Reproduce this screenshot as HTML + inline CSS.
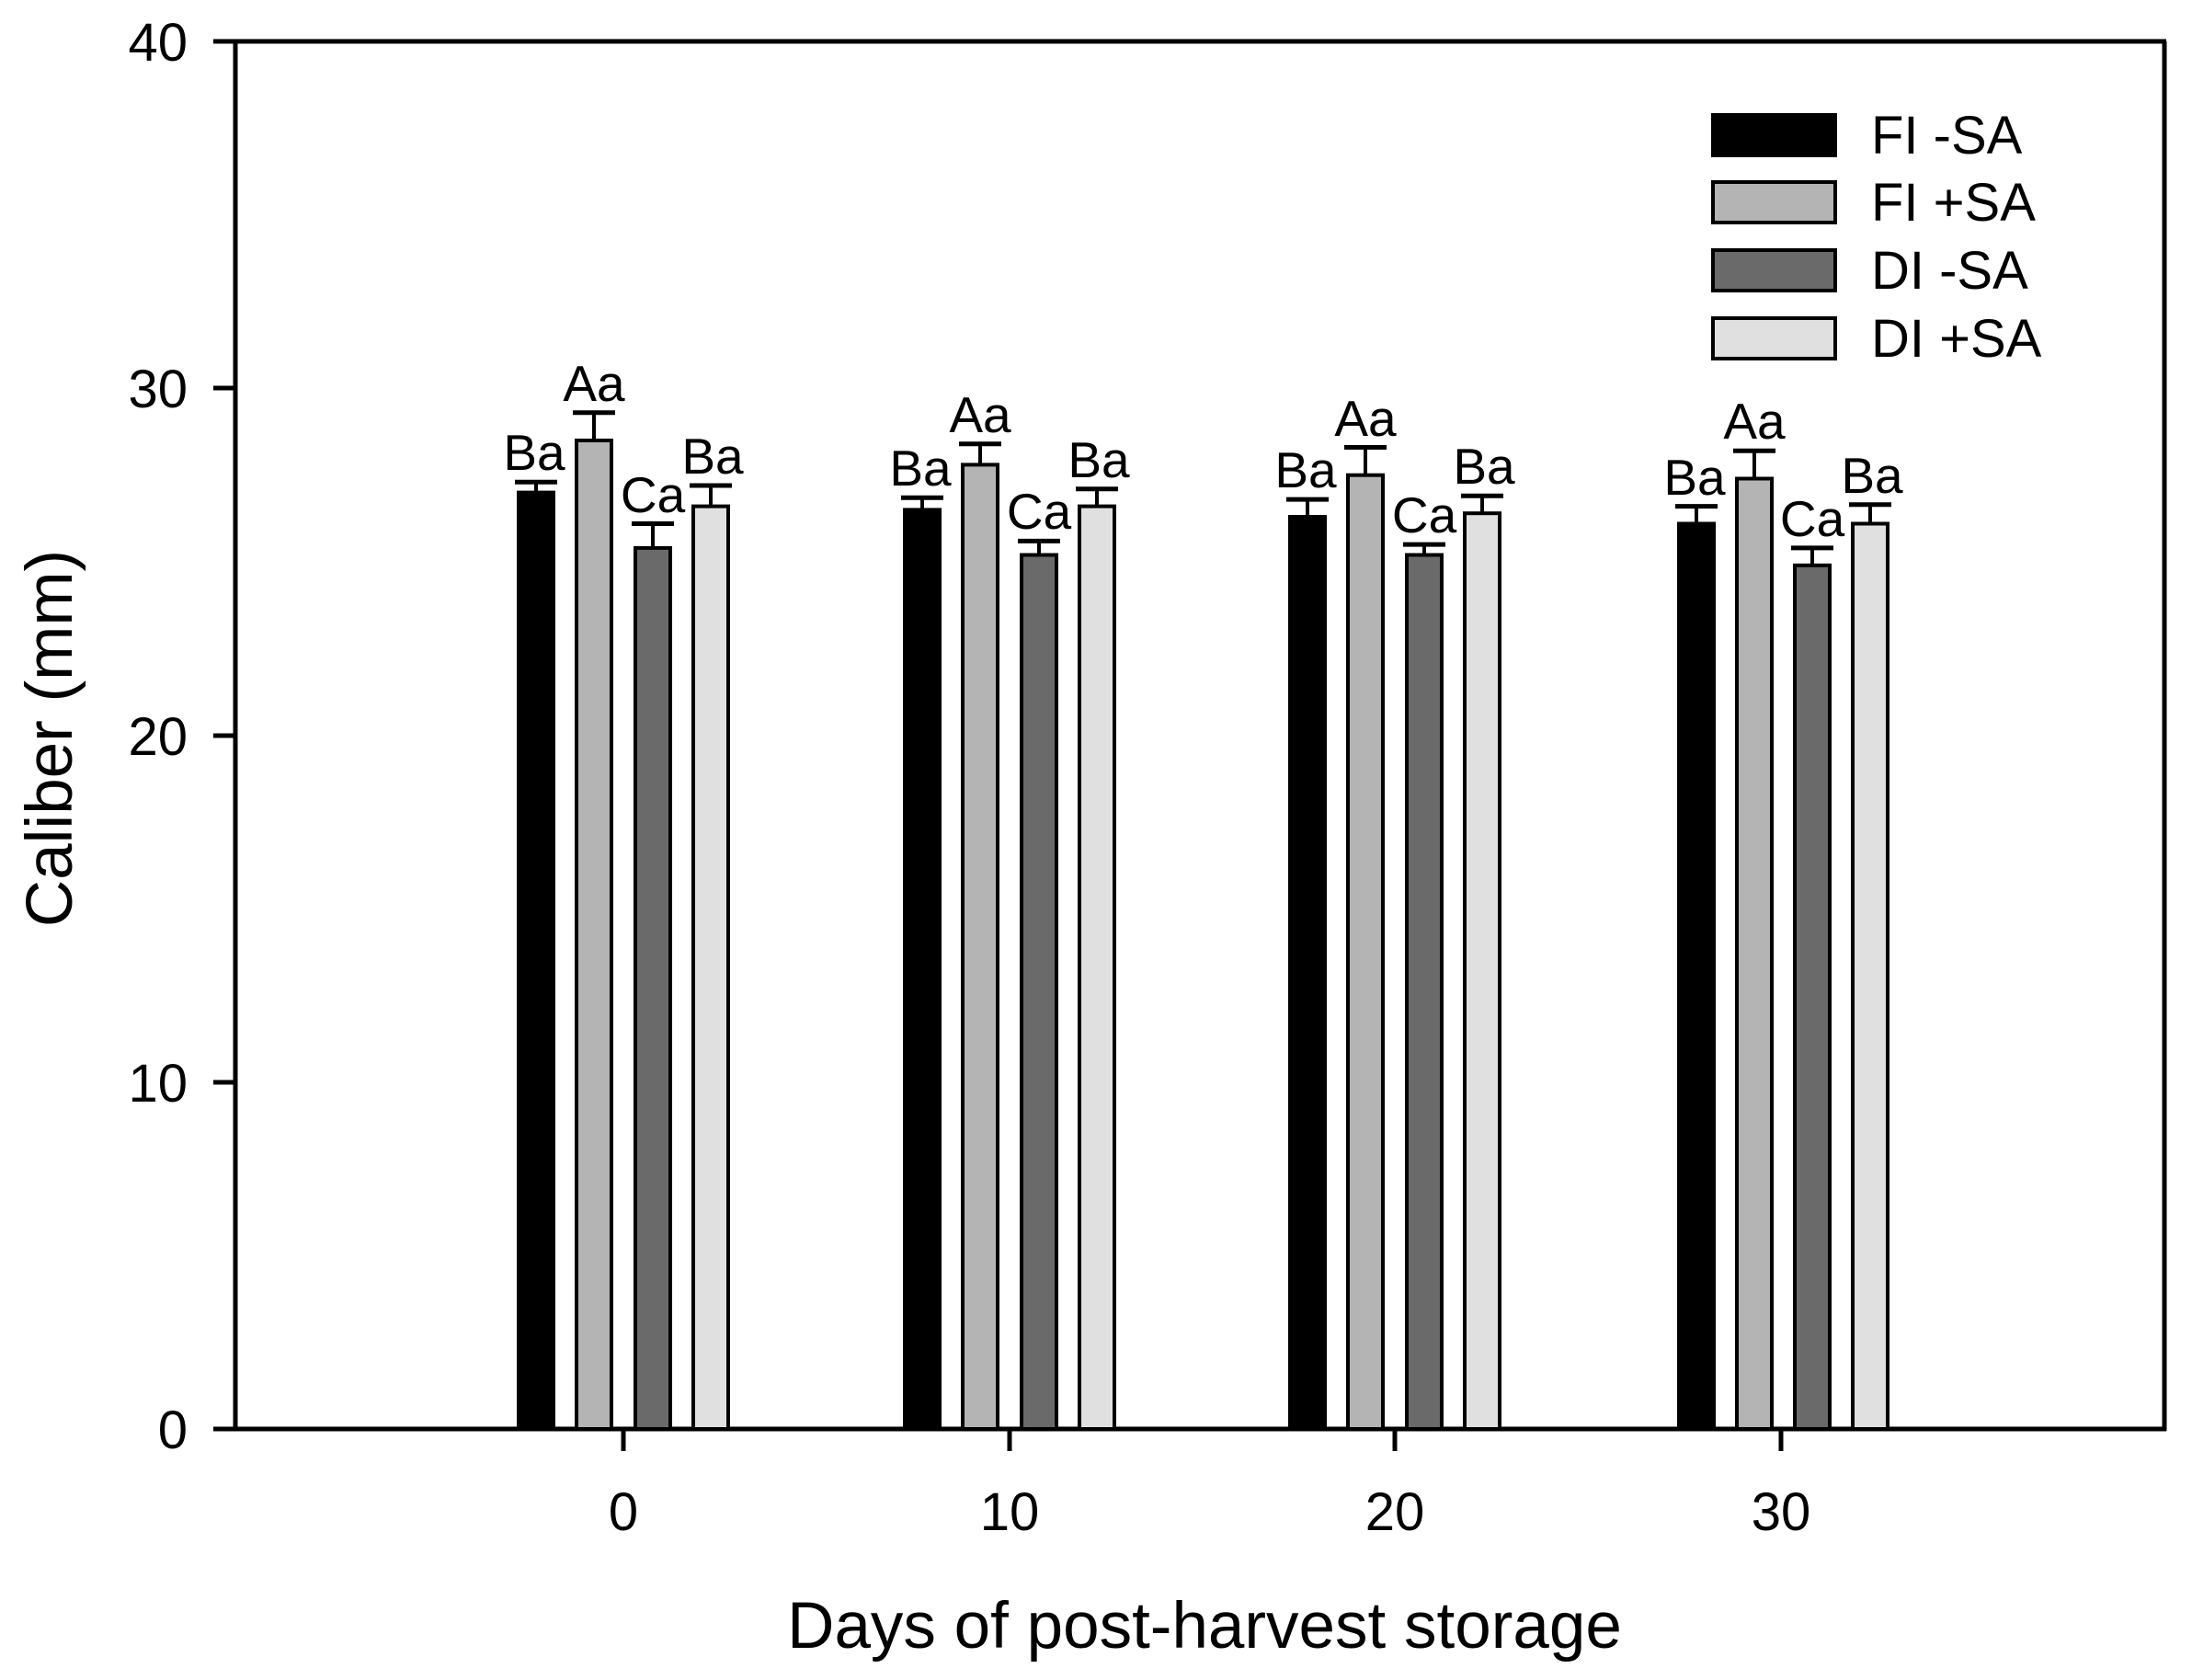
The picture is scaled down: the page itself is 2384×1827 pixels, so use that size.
<!DOCTYPE html>
<html><head><meta charset="utf-8"><style>html,body{margin:0;padding:0;background:#fff}svg{display:block}</style></head>
<body>
<svg width="2384" height="1827" viewBox="0 0 2384 1827" xmlns="http://www.w3.org/2000/svg" font-family="Liberation Sans, sans-serif">
<rect width="2384" height="1827" fill="#fff"/>
<g stroke="#000" stroke-width="5" fill="none">
<line x1="256" y1="45" x2="256" y2="1556"/>
<line x1="254" y1="1554" x2="2356" y2="1554"/>
<line x1="254" y1="45" x2="2356" y2="45"/>
<line x1="2354" y1="45" x2="2354" y2="1556"/>
<line x1="232" y1="45" x2="256" y2="45"/>
<line x1="232" y1="422" x2="256" y2="422"/>
<line x1="232" y1="800" x2="256" y2="800"/>
<line x1="232" y1="1177" x2="256" y2="1177"/>
<line x1="232" y1="1554" x2="256" y2="1554"/>
<line x1="678" y1="1554" x2="678" y2="1578"/>
<line x1="1098" y1="1554" x2="1098" y2="1578"/>
<line x1="1517" y1="1554" x2="1517" y2="1578"/>
<line x1="1937" y1="1554" x2="1937" y2="1578"/>
</g>
<g font-size="58" text-anchor="end">
<text x="204" y="66">40</text>
<text x="204" y="443">30</text>
<text x="204" y="821">20</text>
<text x="204" y="1198">10</text>
<text x="204" y="1575">0</text>
</g>
<g font-size="58" text-anchor="middle">
<text x="678" y="1664">0</text>
<text x="1098" y="1664">10</text>
<text x="1517" y="1664">20</text>
<text x="1937" y="1664">30</text>
</g>
<text x="1310" y="1792" font-size="71" text-anchor="middle">Days of post-harvest storage</text>
<text transform="translate(78,803) rotate(-90)" font-size="71" text-anchor="middle">Caliber (mm)</text>
<g stroke="#000" stroke-width="4">
<rect x="1863" y="125" width="133" height="44" fill="#000"/>
<rect x="1863" y="198" width="133" height="44" fill="#b4b4b4"/>
<rect x="1863" y="272" width="133" height="44" fill="#6a6a6a"/>
<rect x="1863" y="346" width="133" height="44" fill="#e0e0e0"/>
</g>
<g font-size="58">
<text x="2035" y="167">FI -SA</text>
<text x="2035" y="240">FI +SA</text>
<text x="2035" y="314">DI -SA</text>
<text x="2035" y="388">DI +SA</text>
</g>
<g stroke="#000" stroke-width="4">
<!-- group 0 -->
<line x1="583" y1="535.6" x2="583" y2="524.2"/><line x1="560" y1="524.2" x2="606" y2="524.2" stroke-width="5"/>
<rect x="564" y="535.6" width="38" height="1018.4" fill="#000"/>
<line x1="646" y1="479" x2="646" y2="448.8"/><line x1="623" y1="448.8" x2="669" y2="448.8" stroke-width="5"/>
<rect x="627" y="479" width="38" height="1075" fill="#b4b4b4"/>
<line x1="710" y1="595.9" x2="710" y2="569.5"/><line x1="687" y1="569.5" x2="733" y2="569.5" stroke-width="5"/>
<rect x="691" y="595.9" width="38" height="958.1" fill="#6a6a6a"/>
<line x1="773" y1="550.6" x2="773" y2="528"/><line x1="750" y1="528" x2="796" y2="528" stroke-width="5"/>
<rect x="754" y="550.6" width="38" height="1003.4" fill="#e0e0e0"/>
<!-- group 10 -->
<line x1="1003" y1="554.4" x2="1003" y2="541.2"/><line x1="980" y1="541.2" x2="1026" y2="541.2" stroke-width="5"/>
<rect x="984" y="554.4" width="38" height="999.6" fill="#000"/>
<line x1="1066" y1="505.4" x2="1066" y2="482.8"/><line x1="1043" y1="482.8" x2="1089" y2="482.8" stroke-width="5"/>
<rect x="1047" y="505.4" width="38" height="1048.6" fill="#b4b4b4"/>
<line x1="1130" y1="603.5" x2="1130" y2="588.4"/><line x1="1107" y1="588.4" x2="1153" y2="588.4" stroke-width="5"/>
<rect x="1111" y="603.5" width="38" height="950.5" fill="#6a6a6a"/>
<line x1="1193" y1="550.6" x2="1193" y2="531.8"/><line x1="1170" y1="531.8" x2="1216" y2="531.8" stroke-width="5"/>
<rect x="1174" y="550.6" width="38" height="1003.4" fill="#e0e0e0"/>
<!-- group 20 -->
<line x1="1422" y1="562" x2="1422" y2="543.1"/><line x1="1399" y1="543.1" x2="1445" y2="543.1" stroke-width="5"/>
<rect x="1403" y="562" width="38" height="992" fill="#000"/>
<line x1="1485" y1="516.7" x2="1485" y2="486.5"/><line x1="1462" y1="486.5" x2="1508" y2="486.5" stroke-width="5"/>
<rect x="1466" y="516.7" width="38" height="1037.3" fill="#b4b4b4"/>
<line x1="1549" y1="603.5" x2="1549" y2="592.1"/><line x1="1526" y1="592.1" x2="1572" y2="592.1" stroke-width="5"/>
<rect x="1530" y="603.5" width="38" height="950.5" fill="#6a6a6a"/>
<line x1="1612" y1="558.2" x2="1612" y2="539.3"/><line x1="1589" y1="539.3" x2="1635" y2="539.3" stroke-width="5"/>
<rect x="1593" y="558.2" width="38" height="995.8" fill="#e0e0e0"/>
<!-- group 30 -->
<line x1="1845" y1="569.5" x2="1845" y2="550.6"/><line x1="1822" y1="550.6" x2="1868" y2="550.6" stroke-width="5"/>
<rect x="1826" y="569.5" width="38" height="984.5" fill="#000"/>
<line x1="1908" y1="520.5" x2="1908" y2="490.3"/><line x1="1885" y1="490.3" x2="1931" y2="490.3" stroke-width="5"/>
<rect x="1889" y="520.5" width="38" height="1033.5" fill="#b4b4b4"/>
<line x1="1971" y1="614.8" x2="1971" y2="595.9"/><line x1="1948" y1="595.9" x2="1994" y2="595.9" stroke-width="5"/>
<rect x="1952" y="614.8" width="38" height="939.2" fill="#6a6a6a"/>
<line x1="2034" y1="569.5" x2="2034" y2="548.8"/><line x1="2011" y1="548.8" x2="2057" y2="548.8" stroke-width="5"/>
<rect x="2015" y="569.5" width="38" height="984.5" fill="#e0e0e0"/>
</g>
<g font-size="55" text-anchor="middle">
<text x="581" y="511">Ba</text><text x="646" y="436">Aa</text><text x="710" y="557">Ca</text><text x="775" y="515">Ba</text>
<text x="1001" y="528">Ba</text><text x="1066" y="470">Aa</text><text x="1130" y="575">Ca</text><text x="1195" y="519">Ba</text>
<text x="1420" y="530">Ba</text><text x="1485" y="474">Aa</text><text x="1549" y="579">Ca</text><text x="1614" y="526">Ba</text>
<text x="1843" y="538">Ba</text><text x="1908" y="477">Aa</text><text x="1971" y="583">Ca</text><text x="2036" y="536">Ba</text>
</g>
</svg>
</body></html>
